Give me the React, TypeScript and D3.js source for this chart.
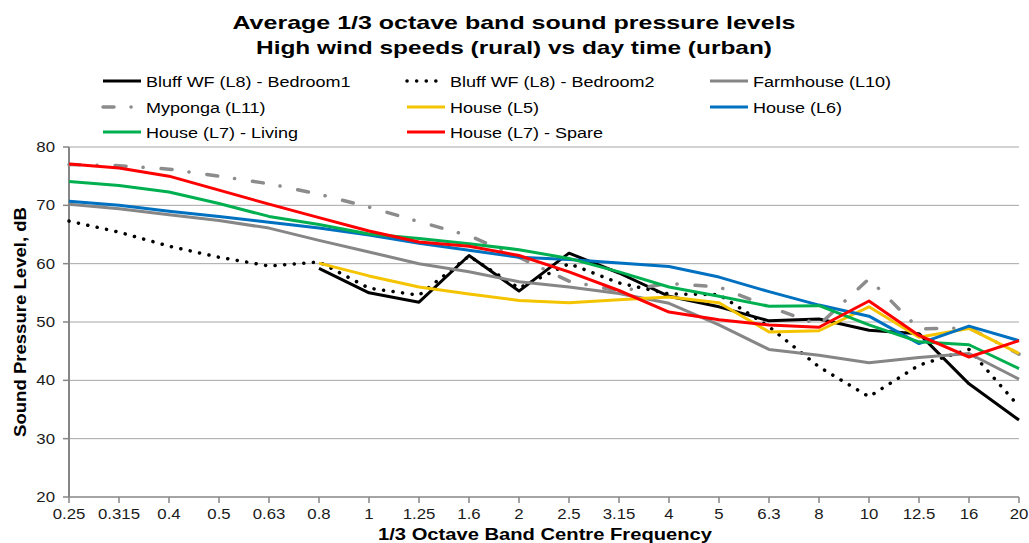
import React from "react";
import * as d3 from "d3";

const categories = ["0.25","0.315","0.4","0.5","0.63","0.8","1","1.25","1.6","2","2.5","3.15","4","5","6.3","8","10","12.5","16","20"];
const yTicks = [20, 30, 40, 50, 60, 70, 80];

const bedroom1 = [null, null, null, null, null, 59.2, 55.0, 53.4, 61.4, 55.3, 61.8, 58.4, 54.4, 52.6, 50.2, 50.5, 48.6, 48.0, 39.4, 33.2];
const bedroom2 = [67.3, 65.4, 63.0, 61.1, 59.6, 60.3, 55.8, 54.6, 61.3, 55.8, 60.0, 56.7, 54.8, 54.7, 49.2, 42.3, 37.2, 42.6, 45.3, 35.5];
const farmhouse = [70.2, 69.4, 68.4, 67.4, 66.1, 64.0, 62.0, 60.0, 58.6, 56.9, 56.0, 54.9, 53.2, 49.5, 45.3, 44.3, 43.0, 43.9, 44.6, 40.2];
const myponga = [77.0, 76.8, 76.2, 75.0, 73.7, 71.9, 69.7, 67.2, 64.8, 61.1, 57.0, 55.3, 56.6, 56.0, 52.6, 49.5, 57.4, 48.8, 49.0, 44.5];
const houseL5 = [null, null, null, null, null, 60.1, 57.9, 56.0, 54.8, 53.7, 53.3, 53.8, 54.3, 53.3, 48.3, 48.5, 52.6, 47.4, 48.9, 44.6];
const houseL6 = [70.7, 70.0, 69.0, 68.1, 67.1, 66.1, 64.9, 63.5, 62.3, 61.1, 60.7, 60.1, 59.5, 57.7, 55.2, 52.9, 51.0, 46.3, 49.3, 46.8];
const houseL7Living = [74.1, 73.4, 72.3, 70.3, 68.1, 66.7, 65.1, 64.3, 63.4, 62.4, 60.9, 58.6, 56.0, 54.4, 52.7, 52.8, 49.5, 46.6, 46.1, 42.0];
const houseL7Spare = [77.1, 76.4, 75.0, 72.6, 70.2, 67.9, 65.6, 63.7, 63.0, 61.4, 58.6, 55.4, 51.7, 50.4, 49.5, 49.1, 53.6, 47.7, 44.0, 46.8];

const seriesNames = [
  "Bluff WF (L8) - Bedroom1",
  "Bluff WF (L8) - Bedroom2",
  "Farmhouse (L10)",
  "Myponga (L11)",
  "House (L5)",
  "House (L6)",
  "House (L7) - Living",
  "House (L7) - Spare",
];
const seriesValues = [bedroom1, bedroom2, farmhouse, myponga, houseL5, houseL6, houseL7Living, houseL7Spare];

type Style = { color: string; width: number; dash?: string; cap?: "round" | "butt" };
const styles: Style[] = [
  { color: "#000000", width: 3 },
  { color: "#000000", width: 3.5, dash: "0.1 9.5", cap: "round" },
  { color: "#868686", width: 3 },
  { color: "#8c8c8c", width: 3.5, dash: "11 17 0.1 18", cap: "round" },
  { color: "#F5C400", width: 3 },
  { color: "#0070C0", width: 3 },
  { color: "#00B050", width: 3 },
  { color: "#FF0000", width: 3 },
];

const W = 1029, H = 543;
const FONT = "'Liberation Sans', Arial, sans-serif";
const SX = 1.2;

function SText({ x, y, anchor = "start", size, weight = "normal", fill = "#000", children }: any) {
  return (
    <g transform={`translate(${x},${y}) scale(${SX},1)`}>
      <text x={0} y={0} textAnchor={anchor} fontSize={size} fontWeight={weight} fill={fill} fontFamily={FONT}>
        {children}
      </text>
    </g>
  );
}

export default function App() {
  const x = d3.scalePoint<string>().domain(categories).range([69, 1019]);
  const y = d3.scaleLinear().domain([20, 80]).range([497, 147]);
  const line = d3
    .line<number | null>()
    .defined((d) => d != null)
    .x((_, i) => x(categories[i]) as number)
    .y((d) => y(d as number));

  const legendCols = [103, 407, 710];
  const legendRows = [81, 107, 132];

  return (
    <svg width={W} height={H} style={{ position: "absolute", left: 0, top: 0, background: "#fff" }}>
      <rect x={0} y={0} width={W} height={H} fill="#fff" />
      {/* title */}
      <text x={514} y={29} textAnchor="middle" fontFamily={FONT} fontWeight="bold" fontSize={19} textLength={563} lengthAdjust="spacingAndGlyphs">
        Average 1/3 octave band sound pressure levels
      </text>
      <text x={514} y={54} textAnchor="middle" fontFamily={FONT} fontWeight="bold" fontSize={19} textLength={516} lengthAdjust="spacingAndGlyphs">
        High wind speeds (rural) vs day time (urban)
      </text>

      {/* legend */}
      {seriesNames.map((name, i) => {
        const col = i % 3;
        const row = Math.floor(i / 3);
        const lx = legendCols[col];
        const ly = legendRows[row];
        const s = styles[i];
        return (
          <g key={name}>
            <line x1={lx} x2={lx + 38} y1={ly} y2={ly} stroke={s.color} strokeWidth={s.width} strokeDasharray={s.dash} strokeLinecap={s.cap || "butt"} />
            <SText x={lx + 43} y={ly + 5.5} size={15}>{name}</SText>
          </g>
        );
      })}

      {/* gridlines */}
      {yTicks.map((t) => (
        <line key={t} x1={69} x2={1019} y1={y(t)} y2={y(t)} stroke={t === 20 ? "#868686" : "#a6a6a6"} strokeWidth={t === 20 ? 1.5 : 1} />
      ))}
      {/* y axis */}
      <line x1={69} x2={69} y1={147} y2={497} stroke="#868686" strokeWidth={2} />
      {yTicks.map((t) => (
        <g key={"yt" + t}>
          <line x1={63} x2={69} y1={y(t)} y2={y(t)} stroke="#868686" strokeWidth={1.5} />
          <SText x={55} y={y(t) + 5} anchor="end" size={14} fill="#1a1a1a">{t}</SText>
        </g>
      ))}
      {/* x ticks */}
      {categories.map((c) => (
        <g key={"xt" + c}>
          <line x1={x(c)} x2={x(c)} y1={497} y2={503} stroke="#868686" strokeWidth={1.5} />
          <SText x={x(c)} y={519} anchor="middle" size={14} fill="#1a1a1a">{c}</SText>
        </g>
      ))}

      {/* series */}
      {seriesValues.map((vals, i) => {
        const s = styles[i];
        return (
          <path key={i} d={line(vals) || ""} fill="none" stroke={s.color} strokeWidth={s.width} strokeDasharray={s.dash} strokeLinecap={s.cap || "butt"} strokeLinejoin="round" />
        );
      })}

      {/* axis titles */}
      <g transform={`translate(26,322) rotate(-90)`}>
        <text x={0} y={0} textAnchor="middle" fontFamily={FONT} fontWeight="bold" fontSize={17} textLength={230} lengthAdjust="spacingAndGlyphs">
          Sound Pressure Level, dB
        </text>
      </g>
      <text x={545} y={540} textAnchor="middle" fontFamily={FONT} fontWeight="bold" fontSize={17} textLength={334} lengthAdjust="spacingAndGlyphs">
        1/3 Octave Band Centre Frequency
      </text>
    </svg>
  );
}
